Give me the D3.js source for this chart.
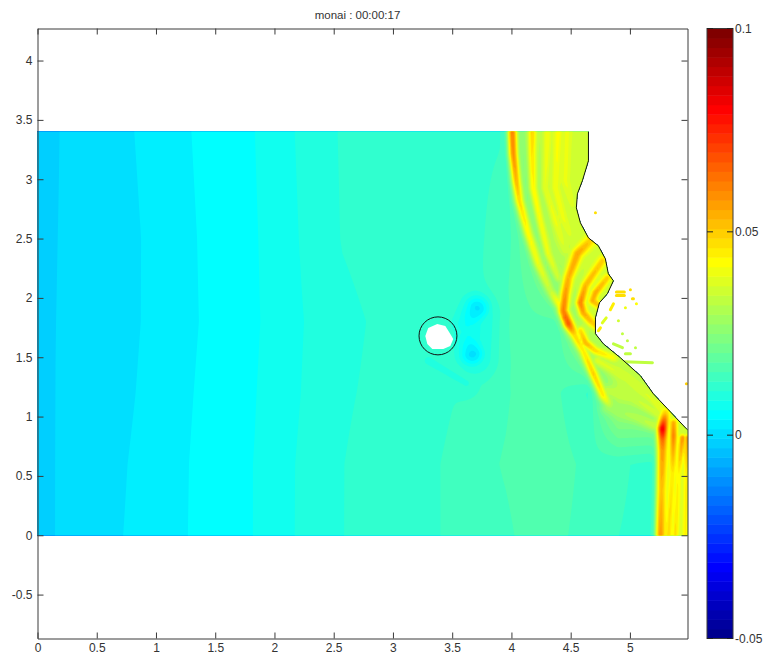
<!DOCTYPE html>
<html><head><meta charset="utf-8">
<script src="https://cdn.jsdelivr.net/npm/d3@7"></script>
<style>html,body{margin:0;background:#fff}svg{display:block}text{font-family:"Liberation Sans",Arial,sans-serif;fill:#333}</style>
</head><body><svg id="c" width="765" height="659"></svg>
<script>
// ---- data ----
const titleText = "monai : 00:00:17";
const xTicks = [0,0.5,1,1.5,2,2.5,3,3.5,4,4.5,5];
const yTicks = [-0.5,0,0.5,1,1.5,2,2.5,3,3.5,4];
const barTicks = [-0.05,0,0.05,0.1];
const xDomain = [0,5.486], yDomain = [-0.87,4.27], valueDomain = [-0.05,0.1];

// background water level on a coarse grid (rows bottom to top)
const gridX = [0,0.15,0.72,1.27,1.83,2.17,2.57,3.2,3.7,3.95,4.15,4.4,4.65,4.9,5.2,5.27,5.5];
const gridY = [0,0.6,1.2,1.8,2.5,3.4];
const row0 = [-.0023,-.00075,.00155,.00391,.0063,.00859,.01089,.0126,.0143,.0151,.0165,.0160,.0148,.0133,.0125,.035,.036];
const row1 = [-.0022,-.00076,.00138,.00387,.0063,.00857,.01089,.0124,.0146,.0159,.0170,.0165,.0150,.0137,.0125,.035,.036];
const row2 = [-.0021,-.00078,.00104,.0037,.00613,.00828,.01068,.0120,.0139,.0152,.0172,.0158,.0130,.032,.033,.034,.034];
const row3 = [-.0021,-.00080,.00082,.00351,.00592,.00814,.01043,.0120,.0125,.0162,.0172,.0175,.034,.034,.034,.034,.034];
const row4 = [-.0022,-.00084,.00078,.00357,.00602,.00836,.01104,.0124,.0130,.0140,.021,.034,.036,.036,.036,.036,.036];
const row5 = [-.0022,-.00091,.00109,.00378,.00622,.00859,.01118,.0125,.0130,.0132,.030,.036,.036,.036,.036,.036,.036];
const gridRows = [row0,row1,row2,row3,row4,row5];

// wave crests: [x, y, level]
const crestA = [[4.008,3.45,.062],[4.008,3.40,.062],[4.016,3.214,.06],[4.041,2.987,.054],[4.067,2.818,.048],[4.143,2.54,.043],[4.227,2.287,.04],[4.329,2.06,.034],[4.413,1.933,.045],[4.455,1.832,.066],[4.514,1.723,.05],[4.607,1.554,.045],[4.692,1.361,.05],[4.776,1.175,.045],[4.852,1.066,.028]];
const crestB = [[4.176,3.45,.05],[4.176,3.214,.047],[4.185,2.928,.044],[4.244,2.65,.042],[4.311,2.372,.04],[4.396,2.169,.035]];
const crestC = [[4.303,3.45,.041],[4.303,3.324,.041],[4.286,2.928,.039],[4.371,2.65,.04],[4.455,2.397,.036]];
const crestD = [[4.396,3.45,.043],[4.371,2.928,.041],[4.438,2.675,.04],[4.514,2.481,.036]];
const crestE = [[4.472,3.45,.04],[4.455,2.987,.04],[4.514,2.776,.037]];
const crestF = [[4.666,2.481,.05],[4.557,2.372,.056],[4.481,2.169,.054],[4.455,2.035,.058],[4.438,1.891,.062],[4.481,1.782,.068],[4.531,1.698,.05]];
const crestG = [[4.768,2.313,.05],[4.624,2.102,.054],[4.582,1.959,.062],[4.607,1.874,.056],[4.666,1.807,.052],[4.734,1.748,.048]];
const crestH = [[4.81,2.169,.05],[4.709,2.043,.056],[4.684,1.976,.055],[4.751,1.925,.05]];
const crestI = [[4.582,1.723,.048],[4.624,1.622,.054],[4.709,1.554,.048],[4.861,1.495,.042]];
const fan1 = [[4.726,1.47,.038],[4.979,1.327,.036],[5.173,1.158,.037],[5.283,1.049,.04]];
const fan2 = [[4.81,1.217,.034],[5.029,1.158,.034],[5.232,1.024,.036]];
const fan3 = [[4.81,1.074,.028],[5.063,.99,.031],[5.215,.922,.034]];
const crestJ = [[5.30,1.032,.05],[5.275,.897,.084],[5.275,.80,.065],[5.275,.712,.058],[5.266,.375,.052],[5.258,0,.058],[5.258,-.1,.058]];
const crestK = [[5.368,.948,.056],[5.368,.838,.062],[5.359,.518,.046],[5.326,0,.048],[5.32,-.1,.048]];
const crestL = [[5.444,.821,.06],[5.41,.518,.044],[5.384,0,.048],[5.38,-.1,.048]];
const crestM = [[5.486,.821,.058],[5.477,.518,.045],[5.469,0,.045],[5.469,-.1,.045]];
const crests = [[crestA,.04],[crestB,.033],[crestC,.033],[crestD,.033],[crestE,.033],[crestF,.045],[crestG,.036],[crestH,.032],[crestI,.036],[fan1,.045],[fan2,.045],[fan3,.05],[crestJ,.04],[crestK,.03],[crestL,.025],[crestM,.025]];

// troughs behind the island: [x, y, level]
const troughHalo = [[3.72,1.85,.0085],[3.70,1.5,.0085]];
const troughLow = [[3.3,1.47,.0108],[3.62,1.28,.0108]];
const troughN = [[3.71,1.91,.001],[3.63,1.78,.006]];
const troughS = [[3.67,1.53,.0005],[3.64,1.66,.006]];
const troughs = [[troughHalo,.17],[troughLow,.1],[troughN,.11],[troughS,.11]];

// shoreline and island outlines
const shoreline = [[4.65,3.40],[4.65,3.155],[4.599,2.987],[4.557,2.877],[4.548,2.759],[4.582,2.633],[4.65,2.506],[4.734,2.439],[4.793,2.329],[4.818,2.203],[4.861,2.144],[4.81,2.035],[4.743,1.959],[4.709,1.832],[4.709,1.698],[4.776,1.613],[4.92,1.495],[5.089,1.344],[5.198,1.192],[5.317,1.066],[5.477,.897],[5.486,.89]];
const domainCorners = [[5.486,0],[0,0],[0,3.4]];
const islandDry = [[3.273,1.679],[3.298,1.747],[3.374,1.78],[3.442,1.763],[3.484,1.696],[3.509,1.654],[3.484,1.595],[3.425,1.57],[3.332,1.57],[3.29,1.612]];
const islandCircle = [3.38,1.68,0.16];

// isolated wet cells above the shoreline: [x1, y1, x2, y2, level]
const wetSpecks = [[4.886,2.05,4.953,2.05,.048],[4.886,2.02,4.953,2.02,.048],[5.004,2.068,5.004,2.068,.048],[5.021,1.992,5.03,1.992,.048],[5.055,1.95,5.055,1.95,.042],[4.962,1.917,4.962,1.917,.04],[4.835,1.90,4.861,1.95,.046],[4.80,1.832,4.767,1.79,.037],[4.751,1.748,4.734,1.723,.045],[4.903,1.807,4.903,1.807,.036],[4.937,1.698,4.937,1.698,.034],[4.861,1.613,4.937,1.58,.034],[4.979,1.638,4.979,1.638,.034],[5.047,1.58,5.047,1.58,.034],[4.962,1.529,5.004,1.529,.034],[4.945,1.462,5.19,1.453,.034],[4.709,2.717,4.709,2.717,.048],[5.477,1.276,5.477,1.276,.05]];

// ---- scales ----
const svg = d3.select("#c");
const x = d3.scaleLinear(xDomain,[37.5,687.5]);
const y = d3.scaleLinear(yDomain,[638.5,28.5]);
const barY = d3.scaleLinear(valueDomain,[638.5,28.5]);
const nBands = 64, bandStep = (valueDomain[1]-valueDomain[0])/nBands;
function jetAt(n){ // MATLAB jet(64), n = 1..64
  const f = t=>Math.max(0,Math.min(1,t));
  const r=f(Math.min((n-24)/16,(72-n)/16)), g=f(Math.min((n-8)/16,(56-n)/16+0)), b=f(Math.min((n+8)/16,(40-n)/16));
  return d3.rgb(r*255,g*255,b*255).formatHex();
}
const jet = d3.range(1,nBands+1).map(jetAt);
const color = d3.scaleQuantize(valueDomain,jet);

// ---- field from the grid and the crests ----
function base(px,py){
  const cl=(v,a)=>Math.max(a[0],Math.min(a[a.length-1],v));
  const u=cl(px,gridX), v=cl(py,gridY);
  const i=Math.min(gridX.length-2,Math.max(0,d3.bisectRight(gridX,u)-1));
  const j=Math.min(gridY.length-2,Math.max(0,d3.bisectRight(gridY,v)-1));
  const s=(u-gridX[i])/(gridX[i+1]-gridX[i]), t=(v-gridY[j])/(gridY[j+1]-gridY[j]);
  const a=gridRows[j], b=gridRows[j+1];
  return (1-t)*((1-s)*a[i]+s*a[i+1])+t*((1-s)*b[i]+s*b[i+1]);
}
function nearest(line,px,py){
  let best=Infinity,lev=0;
  for(let k=0;k<line.length-1;k++){
    const p=line[k],q=line[k+1],dx=q[0]-p[0],dy=q[1]-p[1],L=dx*dx+dy*dy;
    const t=L?Math.max(0,Math.min(1,((px-p[0])*dx+(py-p[1])*dy)/L)):0;
    const ex=p[0]+t*dx-px,ey=p[1]+t*dy-py,d=ex*ex+ey*ey;
    if(d<best){best=d;lev=p[2]+t*(q[2]-p[2]);}
  }
  return [best,lev];
}
const gx0=-0.1,gx1=5.6,gy0=-0.1,gy1=3.5,nx=340,ny=230;
const vals=new Float64Array(nx*ny);
for(let j=0;j<ny;j++){
  const py=gy0+(gy1-gy0)*j/(ny-1);
  for(let i=0;i<nx;i++){
    const px=gx0+(gx1-gx0)*i/(nx-1), b0=base(px,py);
    let v=b0;
    for(const [line,w] of troughs){
      const [d,l]=nearest(line,px,py);
      if(d<9*w*w) v=Math.min(v,b0+(l-b0)*Math.exp(-d/(w*w)));
    }
    const b1=v;
    for(const [line,w] of crests){
      const [d,l]=nearest(line,px,py);
      if(d<9*w*w) v=Math.max(v,b1+(l-b1)*Math.exp(-d/(w*w)));
    }
    vals[j*nx+i]=v;
  }
}
const gcx=d3.scaleLinear([0.5,nx-0.5],[gx0,gx1]), gcy=d3.scaleLinear([0.5,ny-0.5],[gy0,gy1]);
const project=d3.geoPath(d3.geoTransform({point(a,b){this.stream.point(x(gcx(a)),y(gcy(b)));}}));
const thresholds=d3.range(1,nBands).map(k=>valueDomain[0]+k*bandStep);
const contours=d3.contours().size([nx,ny]).thresholds(thresholds)(vals);

// ---- draw ----
const domainLine=d3.line().x(d=>x(d[0])).y(d=>y(d[1]));
svg.append("clipPath").attr("id","wet").append("path")
  .attr("d",domainLine(shoreline.concat(domainCorners))+"Z");
const field=svg.append("g").attr("clip-path","url(#wet)");
field.append("path").attr("d",domainLine(shoreline.concat(domainCorners))+"Z").attr("fill",jet[20]);
field.selectAll("path.band").data(contours.filter(c=>c.coordinates.length)).join("path")
  .attr("class","band").attr("d",project)
  .attr("fill",c=>color(c.value+bandStep/2));

svg.append("g").selectAll("line").data(wetSpecks).join("line")
  .attr("x1",d=>x(d[0])).attr("y1",d=>y(d[1])).attr("x2",d=>x(d[2])).attr("y2",d=>y(d[3]))
  .attr("stroke",d=>color(d[4])).attr("stroke-width",3).attr("stroke-linecap","round");

svg.append("path").attr("d",domainLine(islandDry)+"Z").attr("fill","#fff");
svg.append("ellipse").attr("cx",x(islandCircle[0])).attr("cy",y(islandCircle[1]))
  .attr("rx",x(islandCircle[2])-x(0)).attr("ry",y(0)-y(islandCircle[2]))
  .attr("fill","none").attr("stroke","#111").attr("stroke-width",1);
svg.append("path").attr("d",domainLine(shoreline)).attr("fill","none").attr("stroke","#111").attr("stroke-width",1);

const axisCol="#3a3a3a";
function style(g,labels){
  g.select(".domain").attr("stroke",axisCol);
  g.selectAll(".tick line").attr("stroke",axisCol);
  g.selectAll("text").attr("font-size",12).style("font-family",'"Liberation Sans",Arial,sans-serif').attr("fill","#333");
  if(!labels) g.selectAll("text").remove();
}
const fmt=d=>String(d);
svg.append("g").attr("transform","translate(0,638.5)").call(d3.axisBottom(x).tickValues(xTicks).tickFormat(fmt).tickSizeInner(-6).tickSizeOuter(0).tickPadding(5)).call(style,true);
svg.append("g").attr("transform","translate(0,28.5)").call(d3.axisTop(x).tickValues(xTicks).tickSizeInner(-6).tickSizeOuter(0)).call(style,false);
svg.append("g").attr("transform","translate(37.5,0)").call(d3.axisLeft(y).tickValues(yTicks).tickFormat(fmt).tickSizeInner(-6).tickSizeOuter(0).tickPadding(5)).call(style,true);
svg.append("g").attr("transform","translate(687.5,0)").call(d3.axisRight(y).tickValues(yTicks).tickSizeInner(-6).tickSizeOuter(0)).call(style,false);

svg.append("text").attr("x",357.5).attr("y",19).attr("text-anchor","middle").attr("font-size",11.5).text(titleText);

// colour bar
const bar=svg.append("g");
bar.selectAll("rect").data(jet).join("rect")
  .attr("x",707).attr("width",26)
  .attr("y",(c,k)=>barY(valueDomain[0]+(k+1)*bandStep))
  .attr("height",barY(0)-barY(bandStep)+0.5).attr("fill",c=>c);
bar.append("rect").attr("x",707).attr("y",28.5).attr("width",26).attr("height",610).attr("fill","none").attr("stroke",axisCol);
bar.selectAll("path.t").data(barTicks).join("path").attr("class","t")
  .attr("d",d=>`M707,${barY(d)}h6M733,${barY(d)}h-6`).attr("stroke","#222").attr("fill","none");
bar.selectAll("text").data(barTicks).join("text")
  .attr("x",735).attr("y",d=>barY(d)+4).attr("font-size",12).text(fmt);
</script></body></html>
